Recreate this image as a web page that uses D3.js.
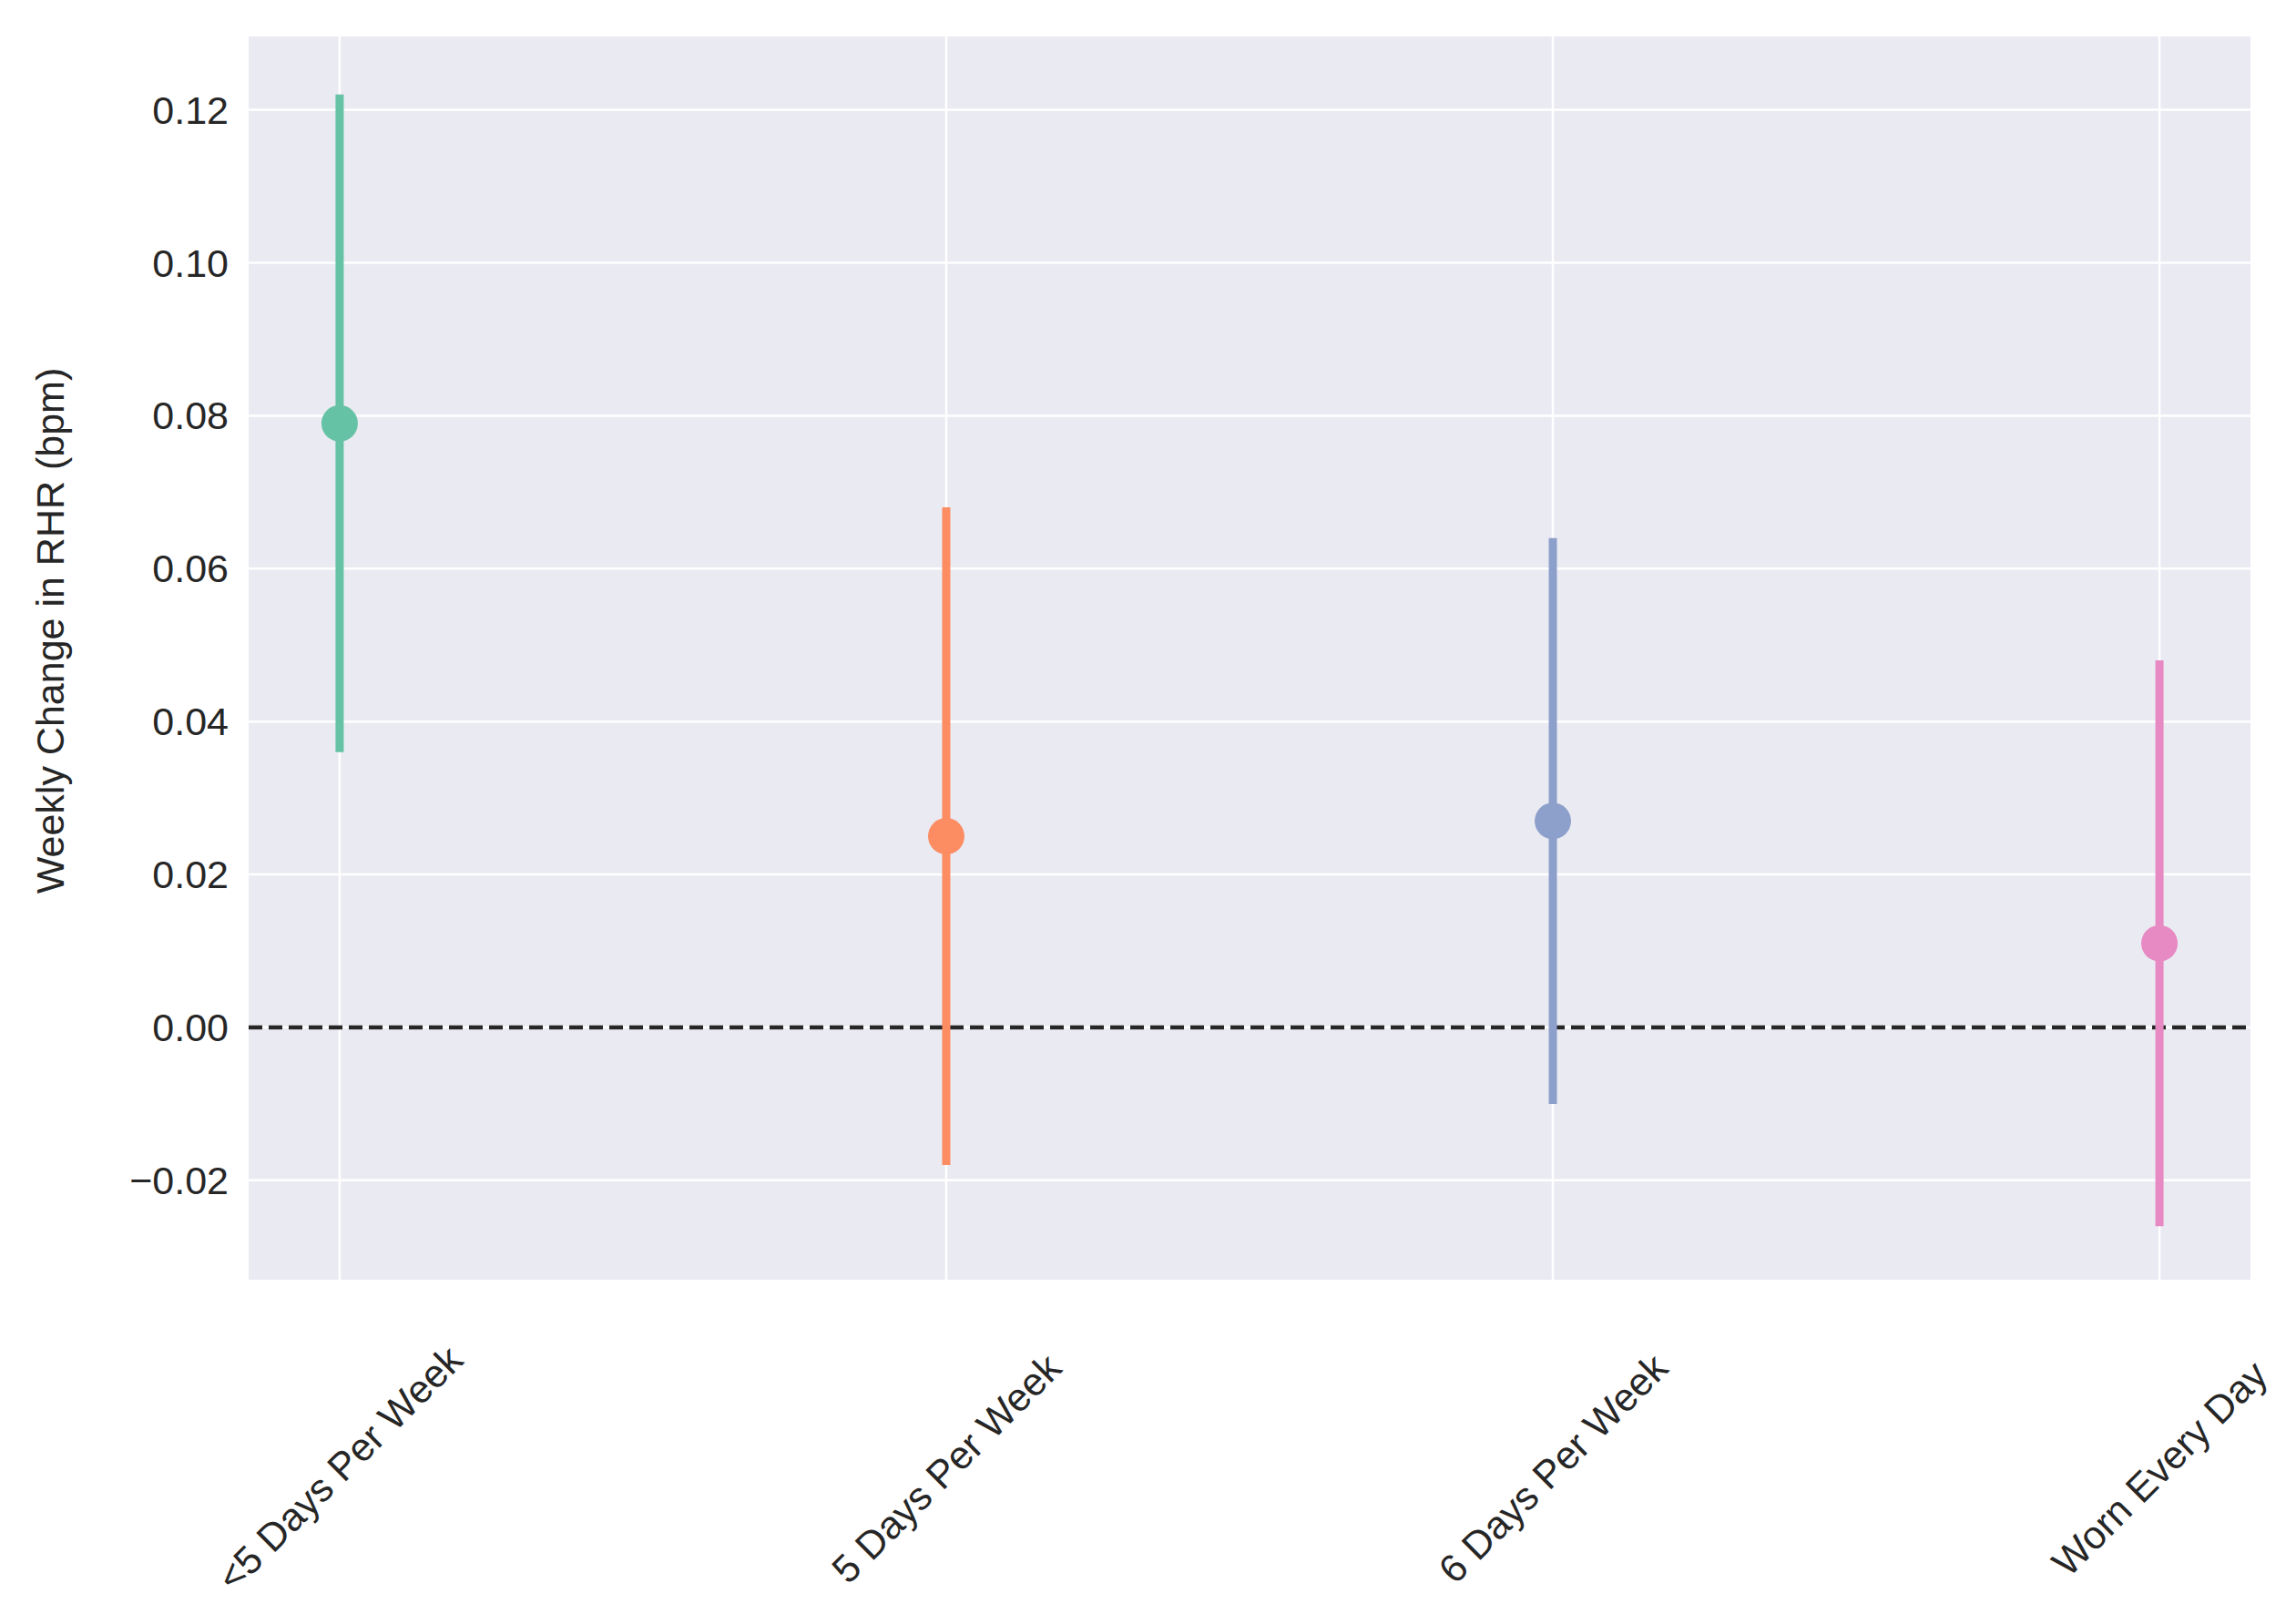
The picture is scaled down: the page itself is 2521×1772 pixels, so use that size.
<!DOCTYPE html>
<html><head><meta charset="utf-8">
<script src="https://cdn.jsdelivr.net/npm/d3@7"></script>
<style>body{margin:0;background:#fff}</style></head>
<body><svg id="c" width="2521" height="1772"></svg>
<script>
const categories=["<5 Days Per Week","5 Days Per Week","6 Days Per Week","Worn Every Day"];
const means=[0.079,0.025,0.027,0.011];
const lows=[0.036,-0.018,-0.010,-0.026];
const highs=[0.122,0.068,0.064,0.048];
const colors=["#66c2a5","#fc8d62","#8da0cb","#e78ac3"];
const yTicks=[-0.02,0,0.02,0.04,0.06,0.08,0.10,0.12];

const svg=d3.select("#c");
const L=273,R=2471,T=40,B=1405;
const F="Liberation Sans, Arial, sans-serif";
const x=d3.scalePoint().domain(categories).range([L,R]).padding(0.15);
const y=d3.scaleLinear().domain([-0.033,0.1296]).range([B,T]);
svg.append("rect").attr("x",L).attr("y",T).attr("width",R-L).attr("height",B-T).attr("fill","#eaeaf2");
const g=svg.append("g");
g.selectAll(".hg").data(yTicks).join("line").attr("x1",L).attr("x2",R)
 .attr("y1",d=>y(d)).attr("y2",d=>y(d)).attr("stroke","#fff").attr("stroke-width",2.5);
g.selectAll(".vg").data(categories).join("line").attr("y1",T).attr("y2",B)
 .attr("x1",d=>x(d)).attr("x2",d=>x(d)).attr("stroke","#fff").attr("stroke-width",2.5);
svg.append("line").attr("x1",L).attr("x2",R).attr("y1",y(0)).attr("y2",y(0))
 .attr("stroke","#262626").attr("stroke-width",4.5).attr("stroke-dasharray","15,7");
categories.forEach((c,i)=>{
  svg.append("line").attr("x1",x(c)).attr("x2",x(c)).attr("y1",y(lows[i])).attr("y2",y(highs[i]))
   .attr("stroke",colors[i]).attr("stroke-width",9);
  svg.append("circle").attr("cx",x(c)).attr("cy",y(means[i])).attr("r",20).attr("fill",colors[i]);
});
svg.selectAll(".yt").data(yTicks).join("text").attr("x",L-22).attr("y",d=>y(d)).attr("dy","0.35em")
 .attr("text-anchor","end").attr("font-family",F).attr("font-size",43)
 .attr("fill","#262626").text(d=>d3.format(".2f")(d).replace("-","−"));
svg.selectAll(".xt").data(categories).join("text")
 .attr("transform",d=>`translate(${x(d)},1612) rotate(-45)`).attr("text-anchor","middle").attr("dy","0.35em")
 .attr("font-family",F).attr("font-size",43).attr("fill","#262626").text(d=>d);
svg.append("text").attr("transform",`translate(70,${(T+B)/2 - 30}) rotate(-90)`).attr("text-anchor","middle")
 .attr("font-family",F).attr("font-size",43).attr("fill","#262626")
 .text("Weekly Change in RHR (bpm)");
</script></body></html>
